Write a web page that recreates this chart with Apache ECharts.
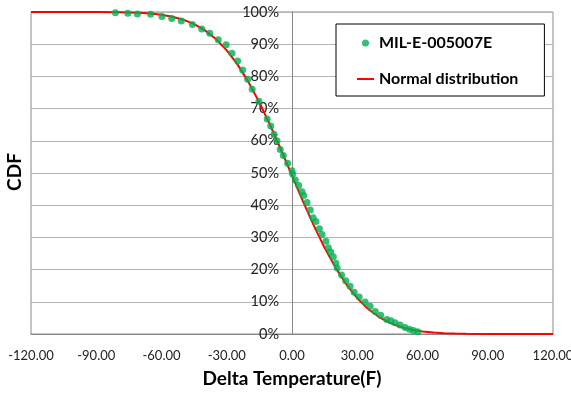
<!DOCTYPE html>
<html>
<head>
<meta charset="utf-8">
<script src="https://cdn.jsdelivr.net/npm/echarts@6/dist/echarts.min.js"></script>
<style>
  html, body { margin: 0; padding: 0; background: #fff; }
  #chart { width: 571px; height: 393px; }
</style>
</head>
<body>
<div id="chart"></div>
<script>
// measured points, MIL-E-005007E
const milTemp = [-81.2, -75.5, -71.1, -65.0, -59.8, -55.3, -50.9, -45.8, -41.5, -37.8,
  -33.9, -30.3, -27.6, -25.0, -22.7, -20.4, -18.3, -15.2, -11.4, -9.8,
  -8.3, -6.9, -5.4, -4.0, -2.0, 0.0, 0.3, 1.5, 3.1, 4.6,
  5.4, 6.9, 8.4, 9.7, 11.0, 12.6, 13.8, 15.6, 16.7, 17.8,
  19.0, 20.2, 20.8, 22.8, 24.7, 26.7, 28.6, 30.9, 33.6, 35.9,
  38.3, 40.8, 43.6, 45.5, 47.4, 49.7, 52.0, 54.0, 55.8, 57.8];
const milCdf = [99.8, 99.6, 99.4, 99.3, 98.6, 98.0, 97.2, 96.1, 94.7, 93.4,
  91.4, 89.8, 87.2, 84.8, 82.0, 79.1, 76.0, 72.3, 66.8, 64.6,
  62.0, 60.0, 57.3, 55.4, 53.0, 50.7, 49.7, 47.8, 46.1, 44.2,
  43.0, 40.8, 38.5, 36.1, 34.9, 32.7, 30.9, 28.8, 26.8, 25.5,
  24.0, 22.0, 20.5, 18.3, 16.5, 14.8, 13.0, 11.5, 9.9, 8.6,
  7.0, 5.8, 4.5, 4.1, 3.5, 2.8, 2.0, 1.5, 1.1, 0.7];

// red curve
const normTemp = [-120, -100, -90, -80, -75, -70, -65, -60, -55, -50,
  -45, -40, -35, -30, -25, -20, -15, -10, -5, 0,
  5, 10, 15, 20, 25, 30, 35, 40, 45, 50,
  55, 60, 65, 70, 75, 80, 90, 100, 120];
const normCdf = [100, 100, 99.98, 99.93, 99.86, 99.73, 99.51, 99.13, 98.54, 97.61,
  96.25, 94.29, 91.62, 88.10, 83.65, 78.23, 71.90, 64.80, 57.14, 49.20,
  41.29, 33.72, 26.76, 20.61, 15.39, 11.12, 7.78, 5.26, 3.44, 2.17,
  1.32, 0.78, 0.44, 0.24, 0.13, 0.06, 0.01, 0, 0];

const seriesNames = ["MIL-E-005007E", "Normal distribution"];
const xTitle = "Delta Temperature(F)";
const yTitle = "CDF";

const font = "Lato";
const gridLeft = 31, gridRight = 18;
const plotW = 571 - gridLeft - gridRight;
// y axis sits on x = 0, which is the middle of -120..120
const yAxisShift = plotW * (0 - -120) / 240;

const chart = echarts.init(document.getElementById("chart"));
chart.setOption({
  animation: false,
  backgroundColor: "#fff",
  textStyle: { fontFamily: font },
  grid: {
    left: gridLeft, right: gridRight, top: 12, bottom: 59,
    show: true, borderColor: "#888", borderWidth: 1,
    containLabel: false,
    outerBoundsMode: "none"
  },
  legend: {
    orient: "vertical",
    left: 336, top: 24,
    padding: [11, 26, 9, 20],
    itemGap: 20,
    itemWidth: 17, itemHeight: 7,
    borderColor: "#000", borderWidth: 1,
    backgroundColor: "#fff",
    textStyle: { fontFamily: font, fontSize: 16, fontWeight: "bold", color: "#000" },
    data: [
      { name: seriesNames[0] },
      { name: seriesNames[1], itemStyle: { opacity: 0 } }
    ]
  },
  xAxis: {
    type: "value",
    min: -120, max: 120, interval: 30,
    name: xTitle,
    nameLocation: "middle",
    nameGap: 35,
    nameTextStyle: { fontFamily: font, fontSize: 19, fontWeight: "bold", color: "#000" },
    axisLine: { show: true, lineStyle: { color: "#888" } },
    axisTick: { show: false },
    splitLine: { show: false },
    axisLabel: {
      margin: 15, fontSize: 13, color: "#222", fontFamily: font,
      formatter: v => v.toFixed(2)
    }
  },
  yAxis: {
    type: "value",
    min: 0, max: 100, interval: 10,
    offset: -yAxisShift,
    axisLine: { show: true, onZero: false, lineStyle: { color: "#888" } },
    axisTick: { show: false },
    splitLine: { lineStyle: { color: "#b4b4b4" } },
    axisLabel: {
      margin: 13, fontSize: 14.5, color: "#222", fontFamily: font,
      formatter: "{value}%"
    }
  },
  graphic: [{
    type: "text",
    x: 15, y: 172,
    rotation: Math.PI / 2,
    style: {
      text: yTitle,
      fontFamily: font, fontSize: 19, fontWeight: "bold", fill: "#000",
      align: "center", verticalAlign: "middle"
    }
  }],
  series: [
    {
      name: seriesNames[0],
      type: "scatter",
      z: 3,
      symbol: "circle",
      symbolSize: 7,
      itemStyle: { color: "#00b050" },
      data: milTemp.map((t, i) => [t, milCdf[i]])
    },
    {
      name: seriesNames[1],
      type: "line",
      z: 1,
      symbol: "none",
      showSymbol: false,
      lineStyle: { color: "#ff0000", width: 2 },
      itemStyle: { color: "#ff0000" },
      data: normTemp.map((t, i) => [t, normCdf[i]])
    }
  ]
});
</script>
</body>
</html>
